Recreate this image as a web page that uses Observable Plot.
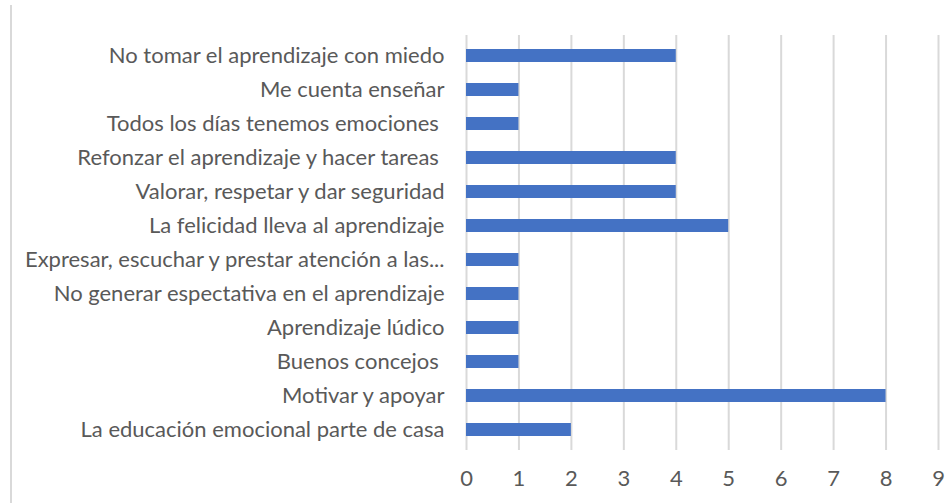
<!DOCTYPE html>
<html>
<head>
<meta charset="utf-8">
<script src="https://cdn.jsdelivr.net/npm/d3@7"></script>
<script src="https://cdn.jsdelivr.net/npm/@observablehq/plot@0.6"></script>
<style>
  html, body { margin: 0; padding: 0; background: #fff; }
  #wrap { position: relative; width: 949px; height: 503px; overflow: hidden; }
  #frame { position: absolute; left: 10px; top: 5px; bottom: 0; border-left: 2px solid #d9d9d9; }
  svg text { white-space: pre; }
</style>
</head>
<body>
<div id="wrap"><div id="frame"></div></div>
<script>
const categories = [
  "No tomar el aprendizaje con miedo",
  "Me cuenta enseñar",
  "Todos los días tenemos emociones ",
  "Refonzar el aprendizaje y hacer tareas ",
  "Valorar, respetar y dar seguridad",
  "La felicidad lleva al aprendizaje",
  "Expresar, escuchar y prestar atención a las...",
  "No generar espectativa en el aprendizaje",
  "Aprendizaje lúdico",
  "Buenos concejos ",
  "Motivar y apoyar",
  "La educación emocional parte de casa"
];
const values = [4, 1, 1, 4, 4, 5, 1, 1, 1, 1, 8, 2];
const xTicks = [0, 1, 2, 3, 4, 5, 6, 7, 8, 9];

const data = categories.map((c, i) => ({category: c, value: values[i]}));

const chart = Plot.plot({
  width: 949,
  height: 503,
  marginLeft: 466,
  marginRight: 11,
  marginTop: 35,
  marginBottom: 53,
  style: {fontFamily: "Lato, 'Open Sans', sans-serif", fontSize: "22px", color: "#595959", background: "transparent"},
  x: {domain: [0, 9], ticks: xTicks},
  y: {domain: categories, paddingInner: 0.63, paddingOuter: 0.315, label: null},
  marks: [
    Plot.gridX(xTicks, {stroke: "#d9d9d9", strokeOpacity: 1, strokeWidth: 2}),
    Plot.barX(data, {x: "value", y: "category", fill: "#4472C4", inset: 0}),
    Plot.axisX(xTicks, {tickSize: 0, tickPadding: 20, fontSize: 22, fill: "#595959", label: null}),
    Plot.axisY({tickSize: 0, tickPadding: 22, fontSize: 22, fill: "#595959", label: null})
  ]
});
chart.style.position = "absolute";
chart.style.left = "0";
chart.style.top = "0";
document.getElementById("wrap").appendChild(chart);
</script>
</body>
</html>
